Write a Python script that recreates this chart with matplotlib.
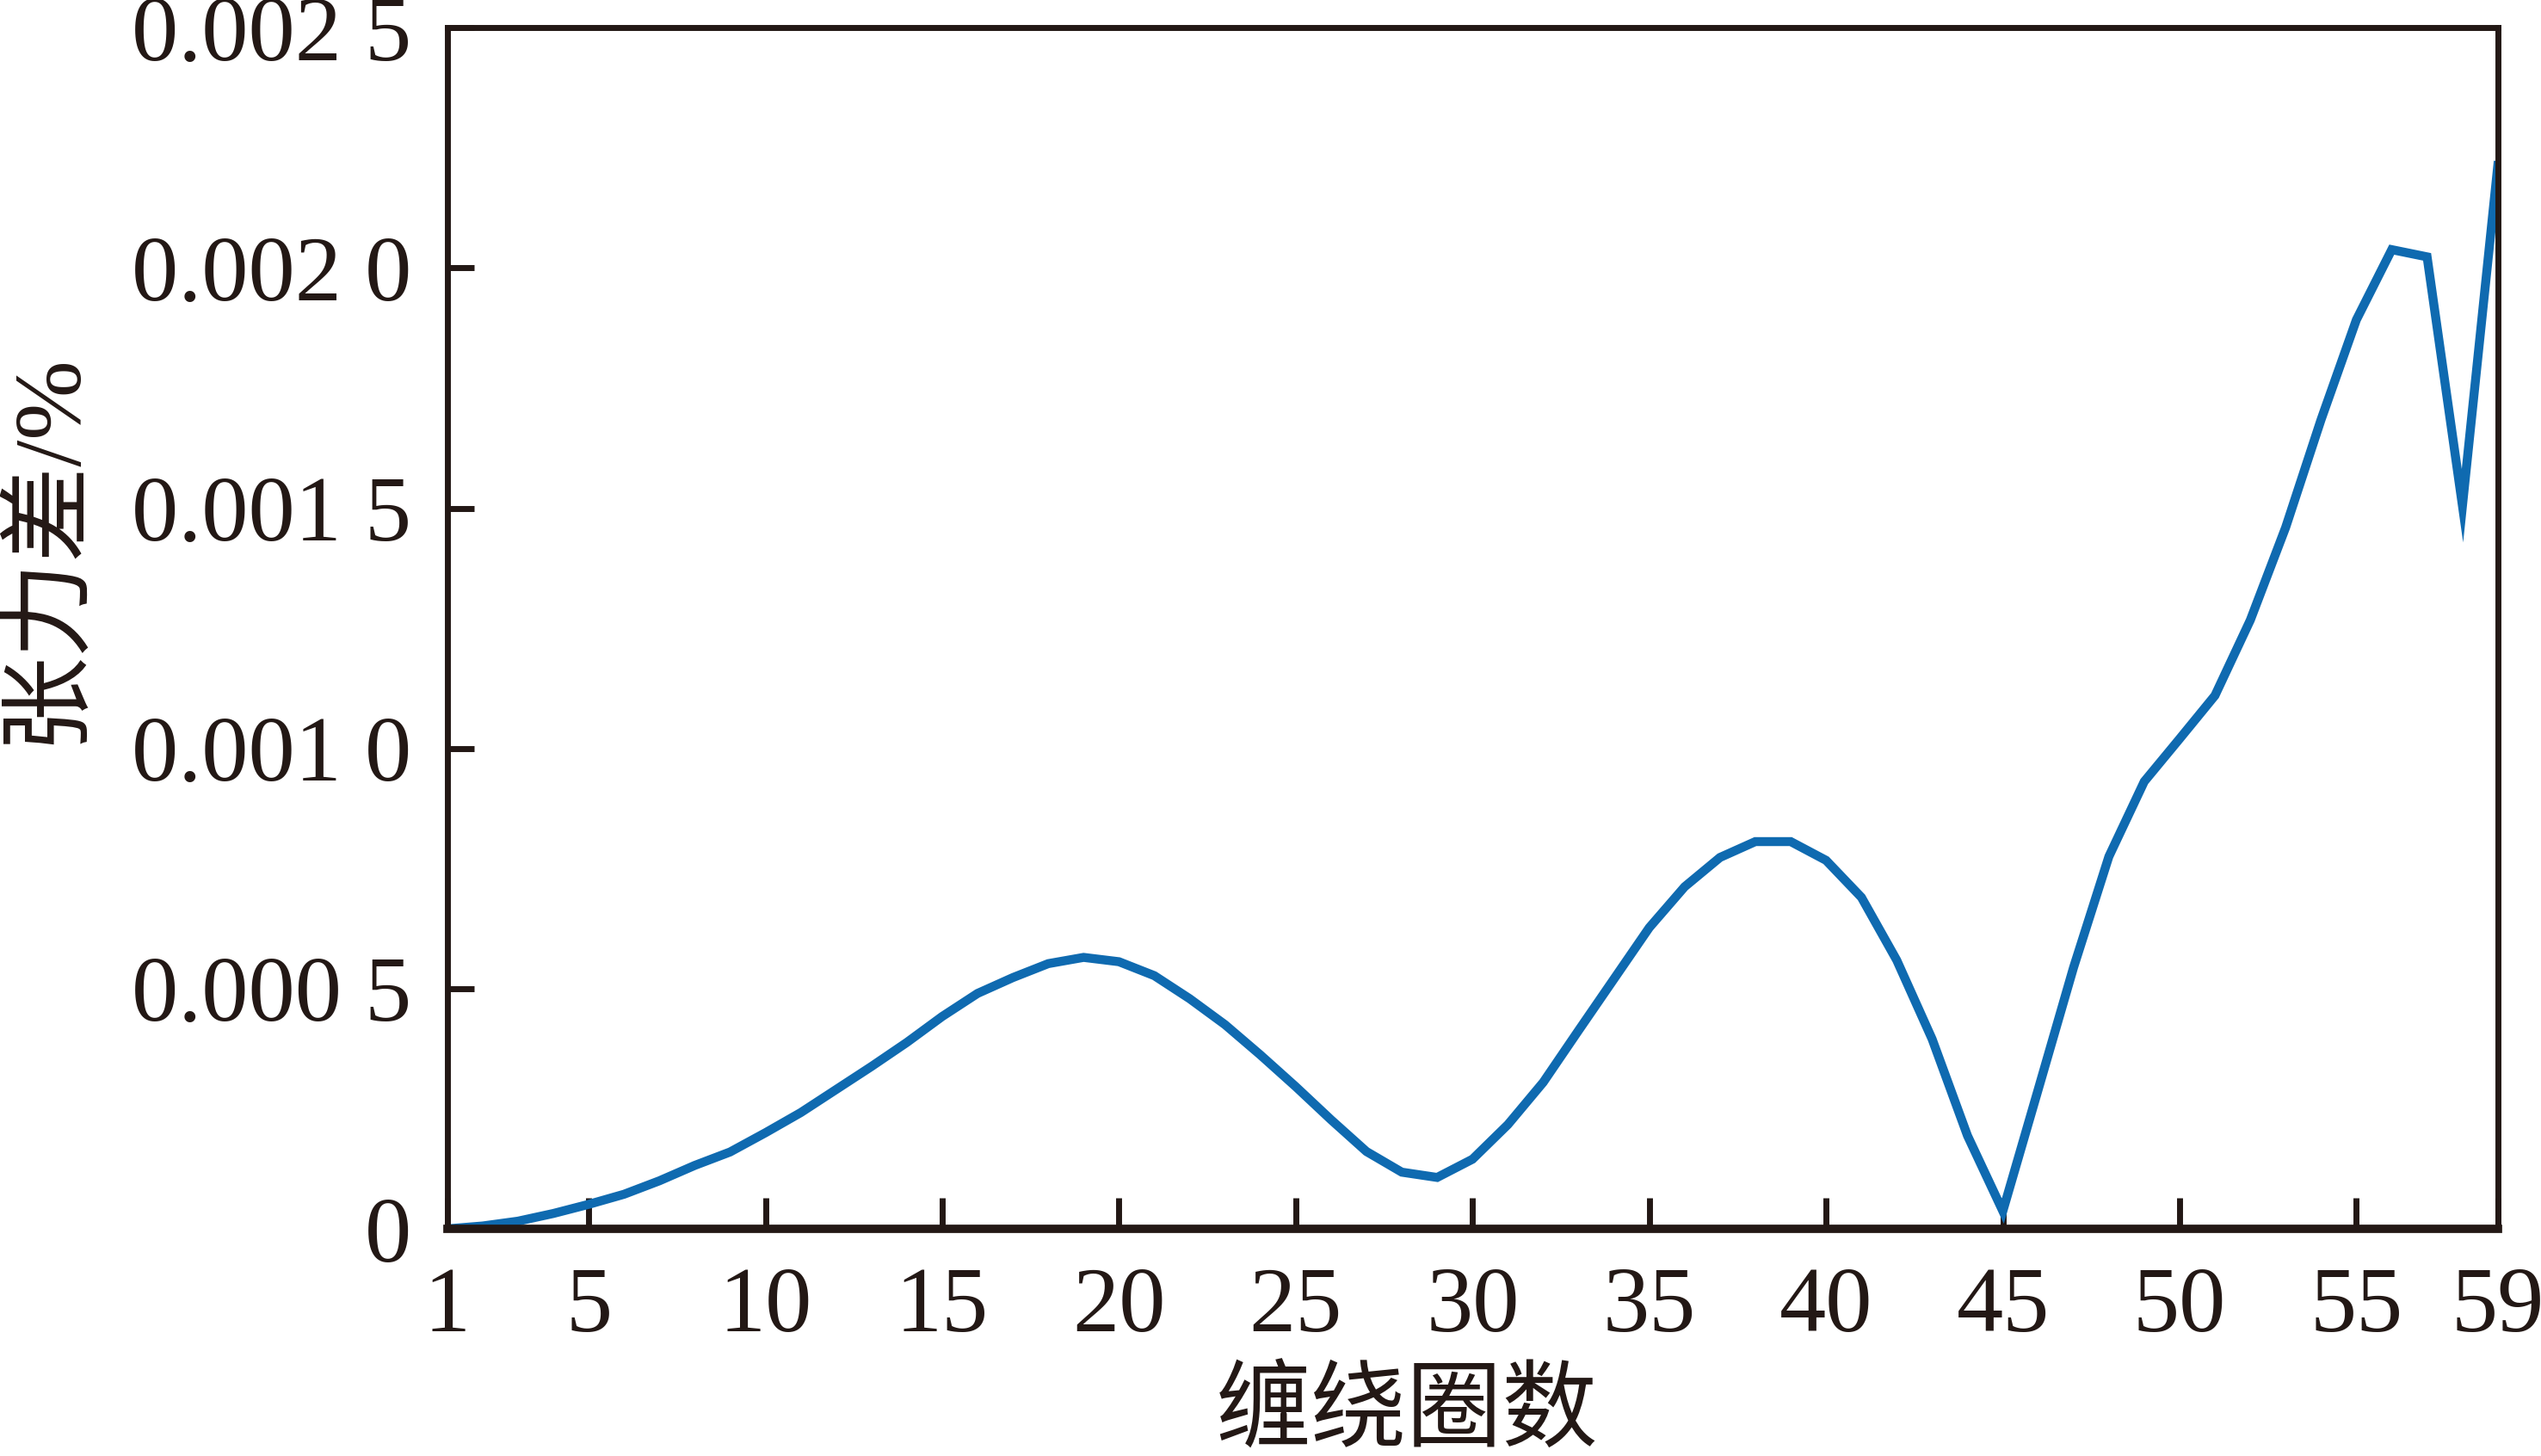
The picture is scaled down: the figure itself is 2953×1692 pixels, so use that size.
import matplotlib.pyplot as plt

# 缠绕圈数 / 张力差 数据
turns = list(range(1, 60))
tension_diff = [
    0.0, 0.000006, 0.000016, 0.000032, 0.000051, 0.000072, 0.0001, 0.000132, 0.00016, 0.0002,
    0.000242, 0.00029, 0.000338, 0.000388, 0.000442, 0.00049, 0.000523, 0.000552, 0.000565, 0.000556,
    0.000527, 0.000479, 0.000425, 0.000362, 0.000296, 0.000227, 0.000161, 0.000118, 0.000107, 0.000145,
    0.000217, 0.000305, 0.000413, 0.00052, 0.000627, 0.000712, 0.000773, 0.000806, 0.000806, 0.000767,
    0.000690, 0.000559, 0.000395, 0.000194, 0.000037, 0.00029, 0.000544, 0.000775, 0.000931, 0.00102,
    0.00111, 0.001267, 0.00146, 0.001684, 0.001892, 0.002038, 0.002023, 0.001505, 0.002213,
]
x_ticks = [1, 5, 10, 15, 20, 25, 30, 35, 40, 45, 50, 55, 59]
y_ticks = [0, 0.0005, 0.0010, 0.0015, 0.0020, 0.0025]
y_tick_labels = ['0', '0.000 5', '0.001 0', '0.001 5', '0.002 0', '0.002 5']

plt.rcParams['font.family'] = ['Liberation Serif', 'Noto Sans CJK SC']
ink = '#231815'

fig = plt.figure(figsize=(29.53, 16.92), dpi=100)
ax = fig.add_axes([0.176, 0.156, 0.807, 0.825])

ax.plot(turns, tension_diff, color='#0F6AB0', linewidth=7.5, solid_joinstyle='miter')

ax.set_xlim(1, 59)
ax.set_ylim(0, 0.0025)
ax.set_xticks(x_ticks)
ax.set_xticklabels([str(t) for t in x_ticks])
ax.set_yticks(y_ticks)
ax.set_yticklabels(y_tick_labels)

ax.tick_params(axis='both', direction='in', colors=ink, labelsize=78, width=5)
ax.tick_params(axis='x', length=26, pad=32)
ax.tick_params(axis='y', length=22, pad=30)

for side in ['left', 'top', 'right']:
    ax.spines[side].set_linewidth(5)
    ax.spines[side].set_color(ink)
ax.spines['bottom'].set_linewidth(7)
ax.spines['bottom'].set_color(ink)

ax.set_xlabel('缠绕圈数', fontsize=80, color=ink)
ax.set_ylabel('张力差/%', fontsize=80, color=ink)
ax.xaxis.set_label_coords(0.468, -0.155)
ax.xaxis.label.set_va('center')
ax.yaxis.set_label_coords(-0.195, 0.567)
ax.yaxis.label.set_va('center')

plt.savefig('out.png', dpi=100)
